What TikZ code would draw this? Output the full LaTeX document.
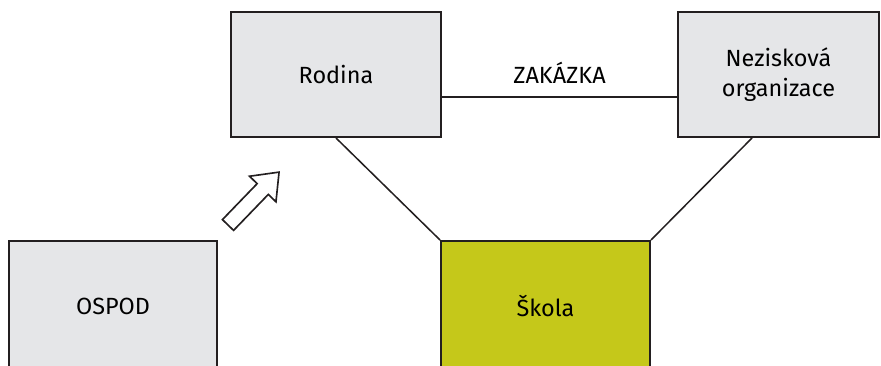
\documentclass[tikz,border=0pt]{standalone}
\usepackage{fontspec}
\setmainfont{Fira Sans}
\definecolor{boxgray}{HTML}{E5E6E8}
\definecolor{skolagreen}{HTML}{C5C81A}
\definecolor{edgeblack}{HTML}{231F20}
\begin{document}
\begin{tikzpicture}[x=0.03cm,y=0.03cm,
  box/.style={draw=edgeblack, line width=1.7pt, fill=boxgray, minimum height=3.75cm, inner sep=0pt, align=center, font=\fontsize{20}{25.5}\selectfont},
  link/.style={draw=edgeblack, line width=1.3pt}]
\useasboundingbox (0,0) rectangle (881,365);
\clip (0,0) rectangle (881,365);
\node[box, minimum width=6.3cm] (rod) at (336,290.5){Rodina};
\node[box, minimum width=6.03cm] (nez) at (778.5,290.5){Nezisková\\organizace};
\node[box, minimum width=6.24cm, minimum height=3.9cm] (osp) at (113,59){OSPOD};
\node[box, minimum width=6.27cm, minimum height=3.9cm, fill=skolagreen] (sko) at (545.5,59){Škola};
\draw[link] (rod.south) -- (sko.north west);
\draw[link] ([xshift=2.25cm]nez.south west) -- (sko.north east);
\draw[link] ([yshift=-0.675cm]rod.east) -- node[midway, anchor=base, yshift=0.39cm, font=\fontsize{20}{24}\selectfont]{ZAKÁZKA} ([yshift=-0.675cm]nez.west);
% hollow arrow towards the family
\begin{scope}[shift={(228,140)}, rotate=46]
\draw[edgeblack, line width=1.4pt, fill=white] (0,-7.75) -- (50,-7.75) -- (50,-18.4) -- (73.5,0) -- (50,18.4) -- (50,7.75) -- (0,7.75) -- cycle;
\end{scope}
\end{tikzpicture}
\end{document}
